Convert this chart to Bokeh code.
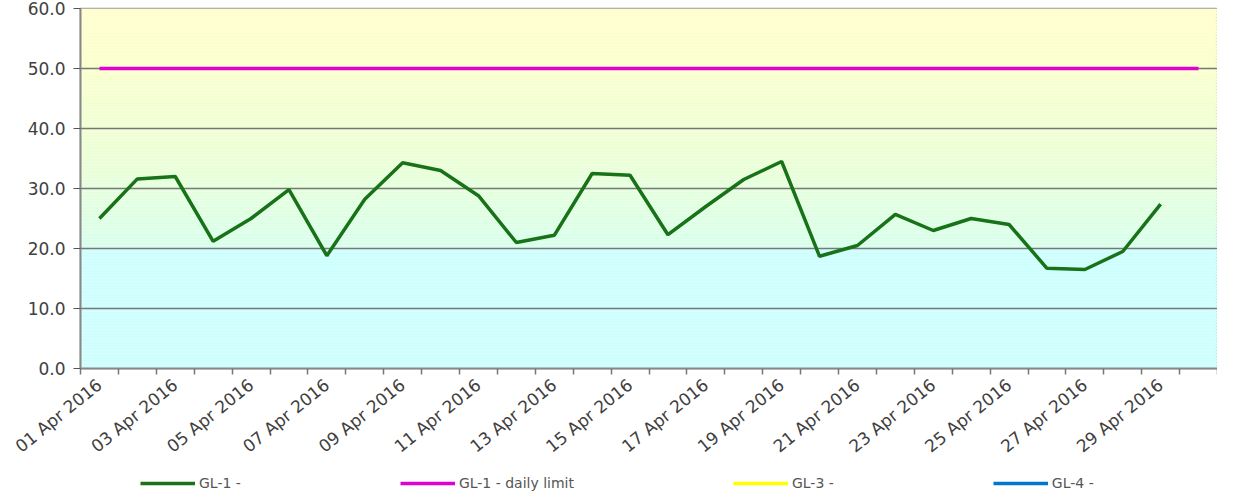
from bokeh.plotting import figure
from bokeh.models import Range1d, FixedTicker, NumeralTickFormatter, Legend, LegendItem
from bokeh.layouts import column
from bokeh.embed import file_html
from bokeh.resources import INLINE
import numpy as np

# ---- data ----
dates = [f"{d:02d} Apr 2016" for d in range(1, 31)]
gl1 = [25.0, 31.6, 32.0, 21.2, 25.0, 29.8, 18.8, 28.2, 34.3, 33.0,
       28.8, 21.0, 22.2, 32.5, 32.2, 22.3, 27.0, 31.5, 34.5, 18.7,
       20.5, 25.7, 23.0, 25.0, 24.0, 16.7, 16.5, 19.5, 27.4]
gl1_limit = [50.0] * 30
gl3 = [float("nan")]   # no readings
gl4 = [float("nan")]   # no readings
y_ticks = [0, 10, 20, 30, 40, 50, 60]
label_every = 2

series = [("GL-1 -", gl1, "#187218"), ("GL-1 - daily limit", gl1_limit, "#e000d0"),
          ("GL-3 -", gl3, "#ffff00"), ("GL-4 -", gl4, "#0077cc")]

n = len(dates)
p = figure(frame_width=1137, frame_height=360, output_backend="svg", toolbar_location=None,
           x_range=Range1d(-0.5, n - 0.5), y_range=Range1d(0, 60),
           min_border_left=80, min_border_top=8, min_border_right=0, min_border_bottom=0)

# background gradient (yellow top -> cyan bottom)
stops_y = [0, 20, 20.01, 35, 50, 60]
stops_c = [(204, 255, 255), (205, 255, 254), (216, 255, 236), (236, 255, 214), (250, 255, 205), (255, 255, 204)]
edges = np.linspace(0, 60, 121)
bot, top, cols = [], [], []
for a, b in zip(edges[:-1], edges[1:]):
    m = (a + b) / 2
    r = np.interp(m, stops_y, [c[0] for c in stops_c])
    g = np.interp(m, stops_y, [c[1] for c in stops_c])
    bl = np.interp(m, stops_y, [c[2] for c in stops_c])
    bot.append(a); top.append(b); cols.append("#%02x%02x%02x" % (int(r), int(g), int(bl)))
p.quad(left=-0.5, right=n - 0.5, bottom=bot, top=top, fill_color=cols, line_color=None, level="underlay")

for name, vals, col in [series[1], series[0], series[2], series[3]]:
    p.line(list(range(len(vals))), vals, line_color=col, line_width=3.5)

# y axis
p.yaxis.ticker = FixedTicker(ticks=y_ticks)
p.yaxis.formatter = NumeralTickFormatter(format="0.0")
p.yaxis.axis_line_color = "#888888"
p.yaxis.axis_line_width = 2
p.yaxis.major_tick_line_color = "#555555"
p.yaxis.major_tick_out = 7
p.yaxis.major_tick_in = 0
p.yaxis.minor_tick_line_color = None
p.yaxis.major_label_text_font = "DejaVu Sans"
p.yaxis.major_label_text_font_size = "17px"
p.yaxis.major_label_text_color = "#404040"
p.yaxis.major_label_standoff = 8

# x axis: labels at centers, tick marks at boundaries
label_pos = list(range(0, n, label_every))
p.xaxis.ticker = FixedTicker(ticks=label_pos, minor_ticks=[i - 0.5 for i in range(n + 1)])
p.xaxis.major_label_overrides = {i: dates[i] for i in label_pos}
p.xaxis.major_label_orientation = 0.68
p.xaxis.major_tick_line_color = None
p.xaxis.major_tick_out = 2
p.xaxis.major_tick_in = 0
p.xaxis.minor_tick_line_color = "#777777"
p.xaxis.minor_tick_out = 6
p.xaxis.minor_tick_in = 0
p.xaxis.minor_tick_line_width = 1.5
p.xaxis.axis_line_color = "#888888"
p.xaxis.axis_line_width = 2
p.xaxis.major_label_text_font = "DejaVu Sans"
p.xaxis.major_label_text_font_size = "17px"
p.xaxis.major_label_text_color = "#404040"
p.xaxis.major_label_standoff = 8

p.xgrid.grid_line_color = None
p.ygrid.ticker = FixedTicker(ticks=y_ticks[1:-1])
p.ygrid.grid_line_color = "#777777"
p.ygrid.grid_line_width = 1.5

p.outline_line_color = "#999999"
p.outline_line_width = 1.5
p.background_fill_color = "white"
p.border_fill_color = "white"

# legend strip below the chart (same series, plotted out of view)
pl = figure(width=1217, height=24, output_backend="svg", toolbar_location=None,
            x_range=Range1d(-0.5, n - 0.5), y_range=Range1d(1000, 1001),
            x_axis_location=None, y_axis_location=None, min_border=0)
pl.grid.grid_line_color = None
pl.outline_line_color = None
items = []
for name, vals, col in series:
    r = pl.line(list(range(len(vals))), vals, line_color=col, line_width=3.5)
    items.append(LegendItem(label=name, renderers=[r]))
legend = Legend(items=items, orientation="horizontal", location=(60, 0), glyph_width=55, glyph_height=14,
                label_standoff=4, spacing=159, border_line_color=None, background_fill_alpha=0,
                label_text_font="DejaVu Sans", label_text_font_size="14px", label_text_color="#555555",
                padding=4, margin=0)
pl.add_layout(legend)

open("out.html", "w").write(file_html(column(p, pl, spacing=0), INLINE))
